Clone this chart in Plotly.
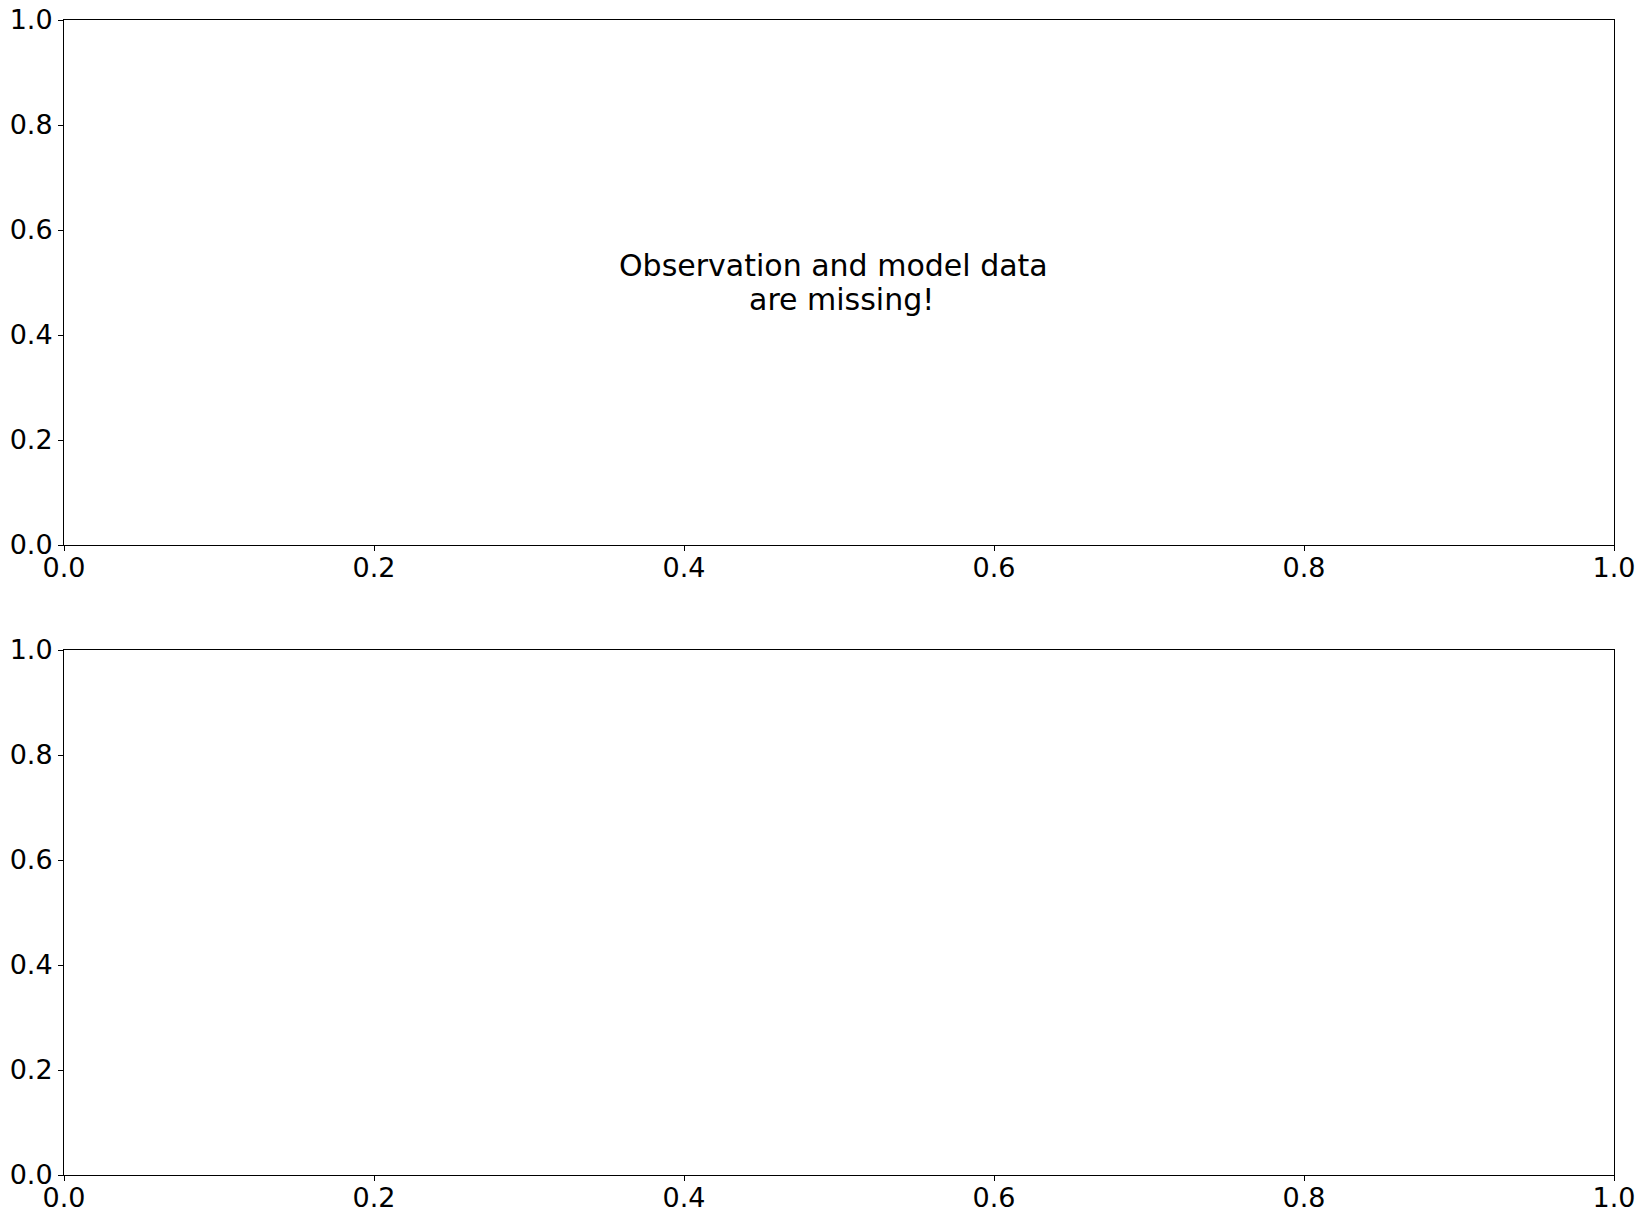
import plotly.graph_objects as go

W, H = 1645, 1223

tick_vals = [0.0, 0.2, 0.4, 0.6, 0.8, 1.0]
tick_text = ["0.0", "0.2", "0.4", "0.6", "0.8", "1.0"]
axis_range = [0.0, 1.0]
message_lines = ["Observation and model data", "are missing!"]

FONT = "DejaVu Sans"

# pixel layout of the axes boxes
left_px, right_px = 64, 1614
top1, bot1 = 20, 545
top2, bot2 = 650, 1175

fig = go.Figure()
fig.add_trace(go.Scatter(x=[], y=[], xaxis="x", yaxis="y", showlegend=False))
fig.add_trace(go.Scatter(x=[], y=[], xaxis="x2", yaxis="y2", showlegend=False))

common = dict(
    range=axis_range,
    tickvals=tick_vals,
    ticktext=tick_text,
    ticks="outside",
    ticklen=5,
    tickwidth=1,
    tickcolor="black",
    showline=True,
    linecolor="black",
    linewidth=1,
    mirror=True,
    showgrid=False,
    zeroline=False,
    automargin=False,
    tickfont=dict(family=FONT, size=27, color="black"),
    fixedrange=True,
)

xdom = [left_px / W, right_px / W]
line_shifts = [(-6, 16.5), (2, -17.5)]
annotations = [
    dict(
        text=txt,
        xref="x domain",
        yref="y domain",
        x=0.5,
        y=0.5,
        xanchor="center",
        yanchor="middle",
        xshift=dx,
        yshift=dy,
        showarrow=False,
        font=dict(family=FONT, size=30, color="black"),
    )
    for txt, (dx, dy) in zip(message_lines, line_shifts)
]

XSTAND, YSTAND = -6, 0
fig.update_layout(
    width=W,
    height=H,
    margin=dict(l=0, r=0, t=0, b=0, autoexpand=False),
    paper_bgcolor="white",
    plot_bgcolor="white",
    showlegend=False,
    xaxis=dict(domain=xdom, anchor="y", ticklabelstandoff=XSTAND, **common),
    yaxis=dict(domain=[1 - bot1 / H, 1 - top1 / H], anchor="x", ticklabelstandoff=YSTAND, **common),
    xaxis2=dict(domain=xdom, anchor="y2", ticklabelstandoff=XSTAND, **common),
    yaxis2=dict(domain=[1 - bot2 / H, 1 - top2 / H], anchor="x2", ticklabelstandoff=YSTAND, **common),
    annotations=annotations,
)

fig.write_html(
    "out.html",
    config={"displayModeBar": False},
    post_script="document.body.style.margin='0';document.body.style.overflow='hidden';",
)
